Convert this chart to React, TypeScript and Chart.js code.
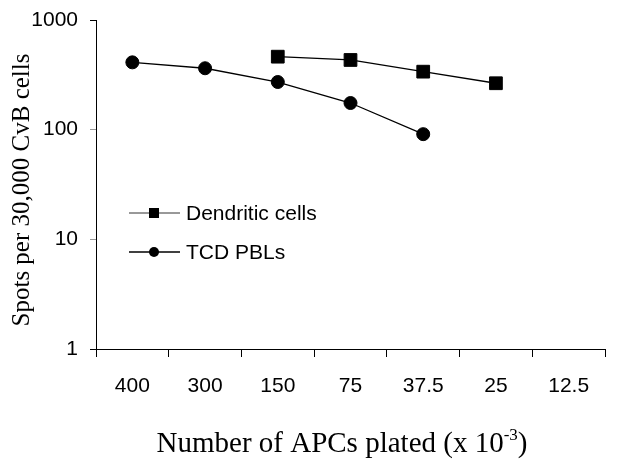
import React, { useEffect, useRef } from "react";
import { Chart, registerables } from "chart.js";
Chart.register(...registerables);

const categories = ["400", "300", "150", "75", "37.5", "25", "12.5"];
const dendriticCells = [null, null, 463, 432, 338, 265, null];
const tcdPBLs = [411, 363, 272, 175, 91, null, null];
const yTickValues = [1, 10, 100, 1000];
const seriesNames = ["Dendritic cells", "TCD PBLs"];
const yTitle = "Spots per 30,000 CvB cells";
const xTitleMain = "Number of APCs plated (x 10";
const xTitleSup = "-3";
const xTitleEnd = ")";

const SANS = "'Liberation Sans', Arial, sans-serif";
const SERIF = "'Liberation Serif', 'Times New Roman', serif";

const overlayPlugin = {
  id: "overlay",
  afterDraw(chart: any) {
    const ctx = chart.ctx;
    ctx.save();
    ctx.fillStyle = "#000";
    // Y title
    ctx.save();
    ctx.translate(22, 190);
    ctx.rotate(-Math.PI / 2);
    ctx.font = `25px ${SERIF}`;
    ctx.textAlign = "center";
    ctx.textBaseline = "middle";
    ctx.fillText(yTitle, 0, 0);
    ctx.restore();
    // X title with superscript
    const big = 29;
    const small = 17;
    ctx.font = `${big}px ${SERIF}`;
    const wMain = ctx.measureText(xTitleMain).width;
    ctx.font = `${small}px ${SERIF}`;
    const wSup = ctx.measureText(xTitleSup).width;
    ctx.font = `${big}px ${SERIF}`;
    const wEnd = ctx.measureText(xTitleEnd).width;
    const total = wMain + wSup + wEnd;
    const cx = 342;
    let x = cx - total / 2;
    const base = 452;
    ctx.textAlign = "left";
    ctx.textBaseline = "alphabetic";
    ctx.fillText(xTitleMain, x, base);
    x += wMain;
    ctx.font = `${small}px ${SERIF}`;
    ctx.fillText(xTitleSup, x, base - 12);
    x += wSup;
    ctx.font = `${big}px ${SERIF}`;
    ctx.fillText(xTitleEnd, x, base);

    // Legend
    const legendItems = [
      { name: seriesNames[0], y: 213, shape: "square", lw: 1, color: "#333" },
      { name: seriesNames[1], y: 252, shape: "circle", lw: 1.6, color: "#000" },
    ];
    for (const it of legendItems) {
      ctx.strokeStyle = it.color;
      ctx.lineWidth = it.lw;
      ctx.beginPath();
      ctx.moveTo(129, it.y);
      ctx.lineTo(180, it.y);
      ctx.stroke();
      ctx.fillStyle = "#000";
      if (it.shape === "square") {
        ctx.fillRect(149, it.y - 5, 10, 10);
      } else {
        ctx.beginPath();
        ctx.arc(154, it.y, 5, 0, Math.PI * 2);
        ctx.fill();
      }
      ctx.font = `21px ${SANS}`;
      ctx.textBaseline = "middle";
      ctx.textAlign = "left";
      ctx.fillText(it.name, 186, it.y + 1);
    }
    ctx.restore();
  },
};

export default function App() {
  const ref = useRef<HTMLCanvasElement | null>(null);
  useEffect(() => {
    document.body.style.margin = "0";
    const canvas = ref.current!;
    const chart = new Chart(canvas, {
      type: "line",
      data: {
        labels: categories,
        datasets: [
          {
            label: seriesNames[0],
            data: dendriticCells,
            borderColor: "#000",
            backgroundColor: "#000",
            borderWidth: 1.3,
            pointStyle: "rect",
            pointRadius: 9,
            pointHoverRadius: 9,
            pointBorderWidth: 1,
            spanGaps: false,
          },
          {
            label: seriesNames[1],
            data: tcdPBLs,
            borderColor: "#000",
            backgroundColor: "#000",
            borderWidth: 1.3,
            pointStyle: "circle",
            pointRadius: 6.5,
            pointHoverRadius: 6.5,
            pointBorderWidth: 1,
            spanGaps: false,
          },
        ],
      },
      options: {
        responsive: false,
        animation: false,
        devicePixelRatio: 1,
        layout: { padding: { top: 20, right: 16, left: 0, bottom: 0 } },
        plugins: { legend: { display: false }, tooltip: { enabled: false } },
        scales: {
          x: {
            type: "category",
            offset: true,
            grid: {
              offset: true,
              drawOnChartArea: false,
              tickLength: 8,
              color: "#000",
            },
            border: { color: "#000", width: 1 },
            ticks: {
              color: "#000",
              font: { family: SANS, size: 21 },
              padding: 17,
              maxRotation: 0,
            },
            afterFit: (s: any) => {
              s.height = 111;
              s.paddingLeft = 0;
              s.paddingRight = 0;
            },
          },
          y: {
            type: "logarithmic",
            min: 1,
            max: 1000,
            afterBuildTicks: (s: any) => {
              s.ticks = yTickValues.map((v) => ({ value: v }));
            },
            grid: {
              drawOnChartArea: false,
              tickLength: 6,
              color: (c: any) =>
                c.tick && (c.tick.value === 10 || c.tick.value === 100) ? "#999" : "#000",
            },
            border: { color: "#000", width: 1 },
            ticks: {
              color: "#000",
              font: { family: SANS, size: 21 },
              padding: 12,
              callback: (v: any) => String(v),
            },
            afterFit: (s: any) => {
              s.width = 96;
              s.paddingTop = 0;
              s.paddingBottom = 0;
            },
          },
        },
      },
      plugins: [overlayPlugin],
    });
    return () => chart.destroy();
  }, []);
  return (
    <div style={{ width: 621, height: 460, background: "#fff" }}>
      <canvas ref={ref} width={621} height={460} />
    </div>
  );
}
